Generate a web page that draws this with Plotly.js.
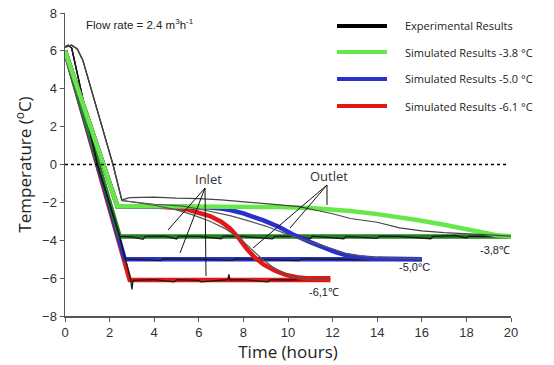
<!DOCTYPE html>
<html><head><meta charset="utf-8">
<script src="https://cdn.plot.ly/plotly-3.0.1.min.js"></script>
<style>html,body{margin:0;padding:0;background:#fff}#c{width:554px;height:365px}</style>
</head><body><div id="c"></div>
<script>
// ---- data (hours, °C) ----
const xTicks = [0,2,4,6,8,10,12,14,16,18,20];
const yTicks = [-8,-6,-4,-2,0,2,4,6,8];

// simulated outlet curves
const simOutT38 = [0, 2.35, 4, 6, 8, 9.6, 11, 12, 12.8, 14, 15, 15.8, 17, 18, 18.75, 19.3, 20];
const simOutV38 = [6.0, -2.2, -2.2, -2.2, -2.22, -2.25, -2.3, -2.38, -2.45, -2.62, -2.78, -2.93, -3.18, -3.4, -3.6, -3.72, -3.8];
const simOutT50 = [0, 2.35, 5, 6, 6.5, 7, 7.4, 8, 8.5, 8.9, 9.6, 10.2, 11, 11.6, 12.1, 12.5, 13.2, 14, 16];
const simOutV50 = [6.0, -2.2, -2.22, -2.24, -2.27, -2.33, -2.4, -2.58, -2.78, -2.95, -3.3, -3.68, -4.1, -4.4, -4.62, -4.76, -4.9, -4.97, -5.0];
const simOutT61 = [0, 2.35, 4, 5, 5.5, 6, 6.5, 7, 7.4, 7.8, 8.15, 8.5, 8.9, 9.4, 9.9, 10.4, 10.8, 11.9];
const simOutV61 = [6.0, -2.2, -2.22, -2.28, -2.38, -2.52, -2.72, -3.02, -3.37, -3.9, -4.45, -4.9, -5.28, -5.6, -5.83, -5.95, -6.0, -6.0];

// simulated inlet curves
const simInT38 = [0, 2.45, 20];
const simInV38 = [6.0, -3.8, -3.8];
const simInT50 = [0, 2.68, 16];
const simInV50 = [6.0, -5.0, -5.0];
const simInT61 = [0, 2.9, 11.9];
const simInV61 = [6.0, -6.1, -6.1];

// experimental inlet
const expInT38 = [0, 0.15, 0.3, 1.45, 2.45, 3.0, 3.5, 3.6, 4.5, 5.0, 5.1, 6.0, 7.0, 7.1, 8.0, 9.3, 9.4, 10.5, 11.0, 11.1, 12.5, 12.6, 14.0, 14.1, 15.0, 16.4, 16.5, 17.5, 18.0, 18.1, 19.0, 20.0];
const expInV38 = [6.2, 6.3, 6.15, 0, -3.8, -3.82, -3.95, -3.8, -3.78, -3.93, -3.8, -3.8, -3.92, -3.78, -3.8, -3.93, -3.8, -3.8, -3.92, -3.78, -3.92, -3.8, -3.9, -3.78, -3.8, -3.92, -3.8, -3.75, -3.88, -3.78, -3.8, -3.78];
const expInT50 = [0, 0.15, 0.3, 1.45, 2.45, 2.7, 3.5, 4.3, 4.4, 6.0, 7.5, 7.6, 9.0, 10.5, 10.6, 12.0, 13.5, 14.0, 15.0, 16.0];
const expInV50 = [6.2, 6.3, 6.15, 0, -3.8, -5.0, -5.02, -5.08, -4.98, -5.0, -5.06, -4.98, -5.02, -5.07, -4.98, -5.0, -5.03, -4.98, -5.0, -5.0];
const expInT61 = [0, 0.15, 0.3, 1.45, 2.45, 2.95, 3.0, 3.05, 4.0, 4.9, 5.0, 6.0, 6.1, 7.0, 7.3, 7.35, 7.4, 8.0, 9.1, 9.2, 10.0, 11.0, 11.8];
const expInV61 = [6.2, 6.3, 6.15, 0, -3.8, -6.1, -6.6, -6.12, -6.08, -6.2, -6.08, -6.12, -6.2, -6.1, -6.08, -5.8, -6.1, -6.08, -6.2, -6.08, -6.1, -6.06, -6.05];

// experimental outlet
const expOutTa = [0, 0.3, 0.55, 0.8, 2.15, 2.55, 2.9, 4, 5, 6, 7, 8, 9, 10, 10.5, 11, 12, 12.8, 14, 15, 16, 17, 18, 19, 20];
const expOutVa = [6.2, 6.3, 6.1, 5.5, 0, -1.87, -1.75, -1.72, -1.78, -1.8, -1.87, -1.97, -2.05, -2.15, -2.22, -2.35, -2.6, -2.85, -3.05, -3.35, -3.5, -3.6, -3.68, -3.72, -3.78];
const expOutTb = [0, 0.3, 0.55, 0.8, 2.15, 2.55, 4, 5.3, 6, 6.8, 7.4, 8, 9, 10, 10.5, 11, 12, 12.6, 13.2, 14, 16];
const expOutVb = [6.2, 6.3, 6.1, 5.5, 0, -1.9, -2.1, -2.2, -2.35, -2.55, -2.7, -2.9, -3.25, -3.7, -3.9, -4.1, -4.45, -4.7, -4.82, -4.92, -4.97];
const expOutTc = [0, 0.3, 0.55, 0.8, 2.15, 2.55, 4, 5, 5.7, 6.5, 7.2, 7.8, 8.3, 8.8, 9.3, 9.8, 10.3, 11, 11.8];
const expOutVc = [6.2, 6.3, 6.1, 5.5, 0, -1.9, -2.15, -2.4, -2.65, -3.0, -3.4, -3.85, -4.4, -4.95, -5.4, -5.75, -5.95, -6.03, -6.05];

const legendNames = ['Experimental Results', 'Simulated Results -3.8 °C', 'Simulated Results -5.0 °C', 'Simulated Results -6.1 °C'];
const endLabels = ['-3,8℃', '-5,0°C', '-6,1℃'];
const endLabelX = [18.5, 14.9, 10.85];
const endLabelY = [-4.5, -5.4, -6.73];

// ---- styles ----
const C_LG = 'rgb(102,232,72)', C_BL = 'rgb(40,48,205)', C_RD = 'rgb(228,22,22)', C_DG = 'rgb(34,128,34)';
const W = 4.5;
function ln(x, y, color, width) {
  return {x: x, y: y, type: 'scatter', mode: 'lines', line: {color: color, width: width}, showlegend: false, hoverinfo: 'skip'};
}
const traces = [
  ln(simInT61, simInV61, C_RD, W),
  ln(simInT50, simInV50, C_BL, W),
  ln(simInT38, simInV38, C_DG, W),
  ln(expInT61, expInV61, '#1a1a1a', 1.3),
  ln(expInT50, expInV50, '#1a1a1a', 1.3),
  ln(expInT38, expInV38, '#1a1a1a', 1.3),
  ln(simOutT61, simOutV61, C_RD, W),
  ln(simOutT50, simOutV50, C_BL, W),
  ln(simOutT38, simOutV38, C_LG, W),
  ln(expOutTc, expOutVc, '#555', 1.2),
  ln(expOutTb, expOutVb, '#555', 1.2),
  ln(expOutTa, expOutVa, '#444', 1.2),
  ln([0, 19.85], [0, 0], '#000', 1.3)
];
traces[traces.length - 1].line.dash = 'dot';

// pixel helpers for decorations
const L = 65, R = 511, T = 13, B = 316;
const px2x = p => (p - L) / (R - L) * 20;
const py2y = p => 8 - (p - T) / (B - T) * 16;
const ppx = p => (p - L) / (R - L);
const ppy = p => (B - p) / (B - T);

const shapes = [];
const annotations = [];
// arrows
const arrows = [
  [205,188,168,230],[205,188,180,253],[205,188,206,276],
  [327,185,253,248],[327,185,290,228],[327,185,327,205]
];
arrows.forEach(a => shapes.push({type:'line', xref:'x', yref:'y', x0:px2x(a[0]), y0:py2y(a[1]), x1:px2x(a[2]), y1:py2y(a[3]), line:{color:'#111', width:1}}));
annotations.push({xref:'x', yref:'y', x:px2x(208), y:py2y(179), text:'Inlet', showarrow:false, font:{family:'Open Sans', size:13, color:'#333'}});
annotations.push({xref:'x', yref:'y', x:px2x(329), y:py2y(176), text:'Outlet', showarrow:false, font:{family:'Open Sans', size:13, color:'#333'}});
for (let i = 0; i < endLabels.length; i++) {
  annotations.push({xref:'x', yref:'y', x:endLabelX[i], y:endLabelY[i], text:endLabels[i], showarrow:false, xanchor:'left', font:{family:'Arial', size:11, color:'#222'}});
}
annotations.push({xref:'paper', yref:'paper', x:ppx(84), y:ppy(24), xanchor:'left', yanchor:'middle', text:'Flow rate = 2.4 m<sup>3</sup>h<sup>-1</sup>', showarrow:false, font:{family:'Arial', size:11.5, color:'#222'}});
// legend
const legColors = ['#000', C_LG, C_BL, C_RD];
const legY = [26, 52, 79, 106];
for (let i = 0; i < 4; i++) {
  shapes.push({type:'line', xref:'paper', yref:'paper', x0:ppx(337), x1:ppx(387), y0:ppy(legY[i]), y1:ppy(legY[i]), line:{color:legColors[i], width:4}});
  annotations.push({xref:'paper', yref:'paper', x:ppx(403), y:ppy(legY[i]), xanchor:'left', yanchor:'middle', text:legendNames[i], showarrow:false, font:{family:'Open Sans', size:11, color:'#222'}});
}

const layout = {
  width: 554, height: 365,
  margin: {l: L, r: 554 - R, t: T, b: 365 - B},
  paper_bgcolor: '#fff', plot_bgcolor: '#fff',
  showlegend: false,
  xaxis: {range: [0, 20], tickvals: xTicks, ticks: 'outside', ticklen: 4, tickcolor: '#555', showline: true, linecolor: '#555', linewidth: 1.5, showgrid: false, zeroline: false,
    tickfont: {family: 'Arial', size: 13, color: '#333'},
    title: {text: 'Time (hours)', font: {family: 'Open Sans', size: 17, color: '#222'}, standoff: 4}},
  yaxis: {range: [-8, 8], tickvals: yTicks, ticks: 'outside', ticklen: 4, tickcolor: '#555', showline: true, linecolor: '#555', linewidth: 1.5, showgrid: false, zeroline: false,
    tickfont: {family: 'Arial', size: 13, color: '#333'},
    title: {text: 'Temperature (<sup>o</sup>C)', font: {family: 'Open Sans', size: 17, color: '#222'}, standoff: 6}},
  shapes: shapes,
  annotations: annotations
};
Plotly.newPlot('c', traces, layout, {staticPlot: true, displayModeBar: false});
</script></body></html>
